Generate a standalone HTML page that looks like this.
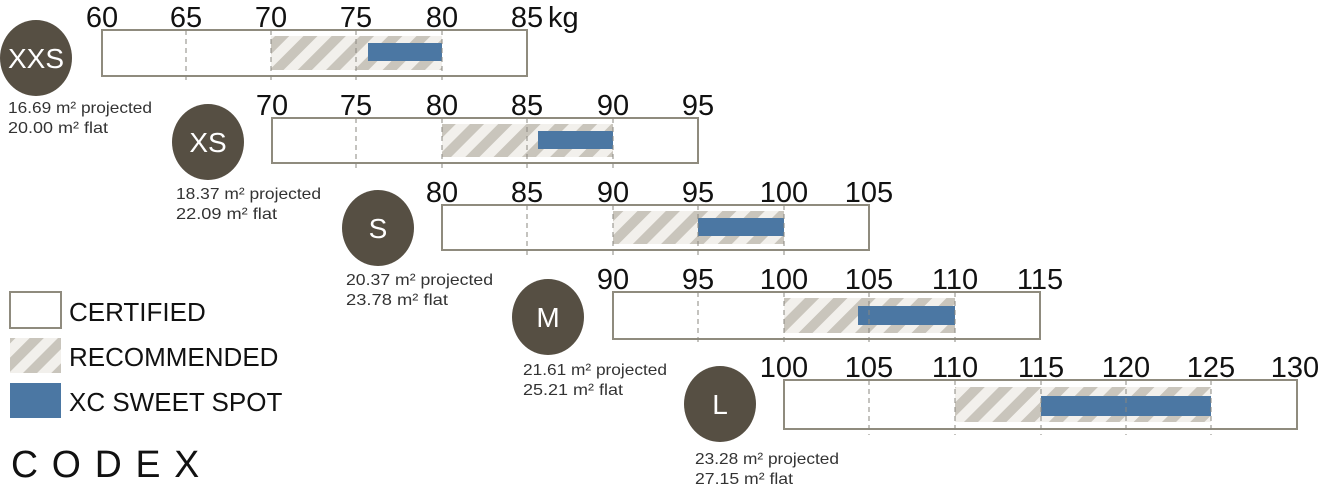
<!DOCTYPE html>
<html><head><meta charset="utf-8"><style>
html,body{margin:0;padding:0;background:#fff;}
svg{display:block;}
text{font-family:"Liberation Sans",sans-serif;}
</style></head><body>
<svg width="1325" height="500" viewBox="0 0 1325 500" xmlns="http://www.w3.org/2000/svg">
<defs>
<pattern id="h" patternUnits="userSpaceOnUse" width="20" height="20" patternTransform="rotate(45)">
<rect width="20" height="20" fill="#f2f0ec"/>
<rect width="10" height="20" fill="#c9c5bc"/>
</pattern>
</defs>
<g stroke="#8f8b7e" stroke-width="2" fill="#fff">
<rect x="102" y="30" width="425" height="46"/>
<rect x="272" y="118" width="426" height="45"/>
<rect x="442" y="205" width="427" height="45"/>
<rect x="613" y="292" width="427" height="47"/>
<rect x="784" y="380" width="513" height="49"/>
</g>
<g fill="url(#h)">
<rect x="271" y="36" width="171" height="34"/>
<rect x="442" y="124" width="171" height="33"/>
<rect x="613" y="211" width="171" height="33"/>
<rect x="784" y="298" width="171" height="35"/>
<rect x="955" y="387" width="256" height="35"/>
</g>
<g fill="#4b77a3">
<rect x="368" y="43" width="74" height="18"/>
<rect x="538" y="131" width="75" height="18"/>
<rect x="698" y="218" width="86" height="18"/>
<rect x="858" y="306" width="97" height="19"/>
<rect x="1041" y="396" width="170" height="20"/>
</g>
<g stroke="#8a877f" stroke-width="1" stroke-dasharray="5,4">
<line x1="186" y1="30" x2="186" y2="82"/><line x1="271" y1="30" x2="271" y2="82"/><line x1="356" y1="30" x2="356" y2="82"/><line x1="442" y1="30" x2="442" y2="82"/>
<line x1="356" y1="118" x2="356" y2="170"/><line x1="442" y1="118" x2="442" y2="170"/><line x1="527" y1="118" x2="527" y2="170"/><line x1="613" y1="118" x2="613" y2="170"/>
<line x1="527" y1="205" x2="527" y2="257"/><line x1="613" y1="205" x2="613" y2="257"/><line x1="698" y1="205" x2="698" y2="257"/><line x1="784" y1="205" x2="784" y2="257"/>
<line x1="698" y1="292" x2="698" y2="345"/><line x1="784" y1="292" x2="784" y2="345"/><line x1="869" y1="292" x2="869" y2="345"/><line x1="955" y1="292" x2="955" y2="345"/>
<line x1="869" y1="380" x2="869" y2="435"/><line x1="955" y1="380" x2="955" y2="435"/><line x1="1041" y1="380" x2="1041" y2="435"/><line x1="1126" y1="380" x2="1126" y2="435"/><line x1="1211" y1="380" x2="1211" y2="435"/>
</g>
<g font-size="29" fill="#111" text-anchor="middle">
<text x="102" y="27">60</text><text x="186" y="27">65</text><text x="271" y="27">70</text><text x="356" y="27">75</text><text x="442" y="27">80</text><text x="527" y="27">85</text>
<text x="272" y="115">70</text><text x="356" y="115">75</text><text x="442" y="115">80</text><text x="527" y="115">85</text><text x="613" y="115">90</text><text x="698" y="115">95</text>
<text x="442" y="202">80</text><text x="527" y="202">85</text><text x="613" y="202">90</text><text x="698" y="202">95</text><text x="784" y="202">100</text><text x="869" y="202">105</text>
<text x="613" y="289">90</text><text x="698" y="289">95</text><text x="784" y="289">100</text><text x="869" y="289">105</text><text x="955" y="289">110</text><text x="1040" y="289">115</text>
<text x="784" y="377">100</text><text x="869" y="377">105</text><text x="955" y="377">110</text><text x="1041" y="377">115</text><text x="1126" y="377">120</text><text x="1211" y="377">125</text><text x="1295" y="377">130</text>
</g>
<text x="548" y="27" font-size="29" fill="#111">kg</text>
<g fill="#564f43">
<ellipse cx="36" cy="58" rx="36" ry="38"/>
<ellipse cx="208" cy="142" rx="36" ry="38"/>
<ellipse cx="378" cy="228" rx="36" ry="38"/>
<ellipse cx="548" cy="317" rx="36" ry="38"/>
<ellipse cx="720" cy="404" rx="36" ry="38"/>
</g>
<g fill="#fff" font-size="28" text-anchor="middle">
<text x="36" y="68">XXS</text>
<text x="208" y="152">XS</text>
<text x="378" y="238">S</text>
<text x="548" y="327">M</text>
<text x="720" y="414">L</text>
</g>
<g fill="#333" font-size="16">
<text x="8" y="113" textLength="144" lengthAdjust="spacingAndGlyphs">16.69 m² projected</text><text x="8" y="133" textLength="100" lengthAdjust="spacingAndGlyphs">20.00 m² flat</text>
<text x="176" y="199" textLength="145" lengthAdjust="spacingAndGlyphs">18.37 m² projected</text><text x="176" y="219" textLength="101" lengthAdjust="spacingAndGlyphs">22.09 m² flat</text>
<text x="346" y="285" textLength="147" lengthAdjust="spacingAndGlyphs">20.37 m² projected</text><text x="346" y="305" textLength="102" lengthAdjust="spacingAndGlyphs">23.78 m² flat</text>
<text x="523" y="375" textLength="144" lengthAdjust="spacingAndGlyphs">21.61 m² projected</text><text x="523" y="395" textLength="100" lengthAdjust="spacingAndGlyphs">25.21 m² flat</text>
<text x="695" y="464" textLength="144" lengthAdjust="spacingAndGlyphs">23.28 m² projected</text><text x="695" y="484" textLength="98" lengthAdjust="spacingAndGlyphs">27.15 m² flat</text>
</g>
<rect x="10" y="292" width="51" height="36" fill="#fff" stroke="#8f8b7e" stroke-width="2"/>
<rect x="10" y="338" width="51" height="35" fill="url(#h)"/>
<rect x="10" y="383" width="51" height="35" fill="#4b77a3"/>
<g font-size="26" fill="#111">
<text x="69" y="321">CERTIFIED</text>
<text x="69" y="366">RECOMMENDED</text>
<text x="69" y="411">XC SWEET SPOT</text>
</g>
<text x="11" y="477" font-size="38" fill="#111" letter-spacing="14" textLength="202" lengthAdjust="spacingAndGlyphs">CODEX</text>
</svg>
</body></html>
